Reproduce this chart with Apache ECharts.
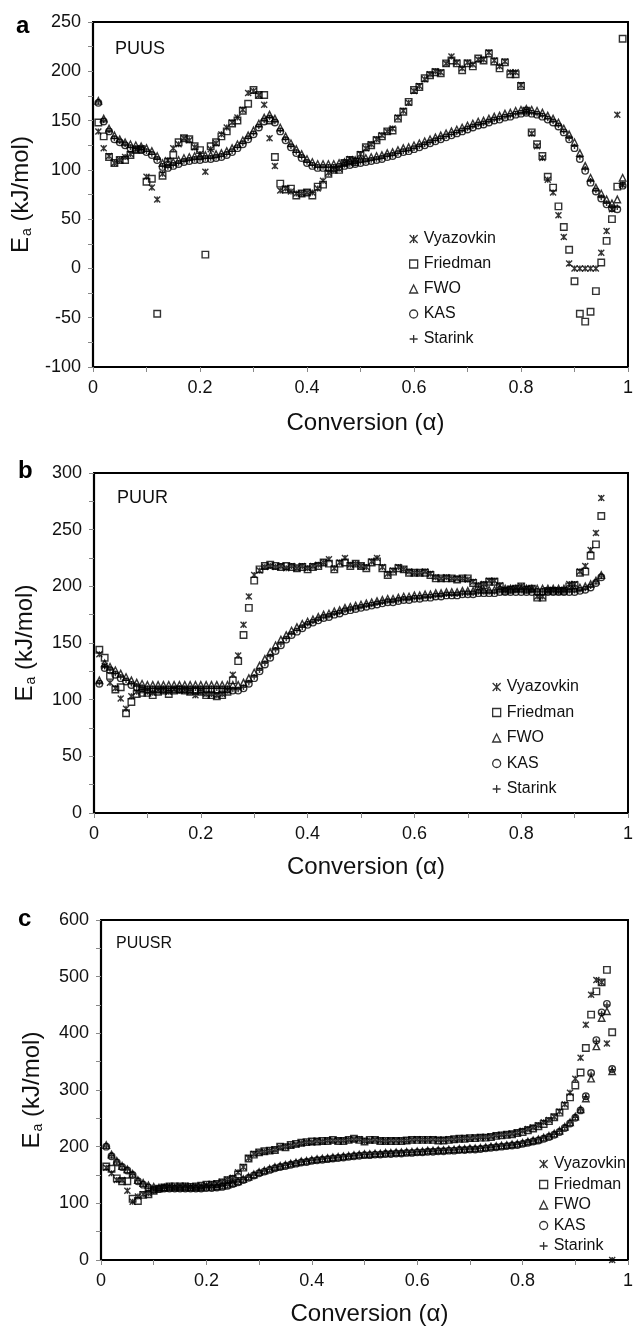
<!DOCTYPE html>
<html><head><meta charset="utf-8">
<script src="https://cdn.jsdelivr.net/npm/echarts@6/dist/echarts.min.js"></script>
<style>html,body{margin:0;padding:0;background:#fff}#c{width:636px;height:1332px}</style>
</head><body><div id="c"></div>
<script>
// ---------- data ----------
const seriesNames = ['Vyazovkin','Friedman','FWO','KAS','Starink'];
const panelLetters = ['a','b','c'];
const panelTitles = ['PUUS','PUUR','PUUSR'];
const xTitle = 'Conversion (\u03b1)';

const alphaA = [0.01,0.02,0.03,0.04,0.05,0.06,0.07,0.08,0.09,0.10,0.11,0.12,0.13,0.14,0.15,0.16,0.17,0.18,0.19,0.20,0.21,0.22,0.23,0.24,0.25,0.26,0.27,0.28,0.29,0.30,0.31,0.32,0.33,0.34,0.35,0.36,0.37,0.38,0.39,0.40,0.41,0.42,0.43,0.44,0.45,0.46,0.47,0.48,0.49,0.50,0.51,0.52,0.53,0.54,0.55,0.56,0.57,0.58,0.59,0.60,0.61,0.62,0.63,0.64,0.65,0.66,0.67,0.68,0.69,0.70,0.71,0.72,0.73,0.74,0.75,0.76,0.77,0.78,0.79,0.80,0.81,0.82,0.83,0.84,0.85,0.86,0.87,0.88,0.89,0.90,0.91,0.92,0.93,0.94,0.95,0.96,0.97,0.98,0.99];
const vyaA = [139,122,114,107,110,113,116,121,122,93, 82,70,96,110,122,126,132,130,123,116, 98,121,127,136,143,148,153,161,178,180, 176,166,132,104,79,81,78,76,76,77, 77,81,89,97,100,101,107,111,110,116, 122,126,131,135,139,142,153,160,168,180, 185,192,197,200,199,208,215,209,203,209, 207,212,212,219,211,205,210,199,199,186, 160,137,124,112,90,77,54,32,5,0, 0,0,0,0,16,38,60,156,85];
const friA = [148,134,113,107,110,110,115,120,121,88, 91,-46,94,108,115,128,132,131,124,120, 14,124,128,134,139,147,150,160,167,181, 176,176,150,113,86,80,81,74,76,77, 74,83,85,96,100,100,107,110,108,115, 123,125,130,134,139,140,152,159,169,181, 184,193,196,199,198,208,211,208,201,208, 205,213,211,218,210,203,209,197,197,185, 160,138,126,114,93,82,63,42,19,-13, -46,-54,-44,-23,6,28,50,83,233];
const fwoA = [170,152,142,135,131,128,126,125,124,122, 119,114,107,106,108,110,112,113,114,114, 115,115,116,117,119,122,126,130,135,140, 147,153,156,152,143,134,127,121,116,111, 108,106,106,106,106,107,108,109,110,111, 112,113,114,115,117,118,120,122,123,125, 127,129,131,133,135,137,139,141,143,145, 147,149,150,152,154,155,157,158,160,161, 162,161,160,158,155,152,148,142,136,128, 117,104,92,82,76,70,66,70,92];
const kasA = [168,149,139,131,128,125,122,121,120,118, 115,110,103,102,104,106,108,109,110,110, 111,111,112,113,115,118,122,126,131,136, 143,149,152,148,139,130,123,117,112,107, 104,102,102,102,102,103,104,105,106,107, 108,109,110,111,113,114,116,118,119,121, 123,125,127,129,131,133,135,137,139,141, 143,145,146,148,150,151,153,154,156,157, 158,157,156,154,151,148,144,138,131,122, 111,99,87,78,71,65,61,60,84];
const staA = [169,150,140,132,129,126,123,122,121,119, 116,111,104,103,105,107,109,110,111,111, 112,112,113,114,116,119,123,127,132,137, 144,150,153,149,140,131,124,118,113,108, 105,103,103,103,103,104,105,106,107,108, 109,110,111,112,114,115,117,119,120,122, 124,126,128,130,132,134,136,138,140,142, 144,146,147,149,151,152,154,155,157,158, 159,158,157,155,152,149,145,139,132,124, 113,101,89,79,72,66,62,62,85];

const alphaB = [0.01,0.02,0.03,0.04,0.05,0.06,0.07,0.08,0.09,0.10,0.11,0.12,0.13,0.14,0.15,0.16,0.17,0.18,0.19,0.20,0.21,0.22,0.23,0.24,0.25,0.26,0.27,0.28,0.29,0.30,0.31,0.32,0.33,0.34,0.35,0.36,0.37,0.38,0.39,0.40,0.41,0.42,0.43,0.44,0.45,0.46,0.47,0.48,0.49,0.50,0.51,0.52,0.53,0.54,0.55,0.56,0.57,0.58,0.59,0.60,0.61,0.62,0.63,0.64,0.65,0.66,0.67,0.68,0.69,0.70,0.71,0.72,0.73,0.74,0.75,0.76,0.77,0.78,0.79,0.80,0.81,0.82,0.83,0.84,0.85,0.86,0.87,0.88,0.89,0.90,0.91,0.92,0.93,0.94,0.95];
const vyaB = [140,130,115,110,101,92,103,107,108,107, 106,108,108,107,109,108,108,107,104,107, 105,105,104,105,108,122,139,166,191,210, 214,217,218,217,218,216,218,216,218,216, 218,219,221,224,216,221,225,219,220,218, 217,222,225,217,211,214,217,215,213,212, 212,213,211,208,207,208,207,207,207,206, 204,201,202,205,205,201,197,198,198,200, 198,198,191,191,196,197,196,197,202,202, 213,218,232,247,278];
const friB = [144,137,121,109,111,88,98,105,106,106, 104,107,108,105,108,109,108,107,108,107, 104,104,103,104,107,117,134,157,181,205, 215,218,219,218,217,218,217,216,217,215, 217,218,221,220,215,220,221,218,220,218, 216,221,222,216,210,213,216,215,212,212, 212,212,210,207,207,207,207,206,207,207, 203,200,201,204,204,200,196,197,198,200, 197,198,190,190,196,196,196,196,200,201, 212,213,227,237,262];
const fwoB = [117,132,129,126,123,120,117,115,114,113, 113,113,113,113,113,113,113,113,113,113, 113,113,113,113,113,113,113,115,119,124, 130,136,142,148,153,157,161,164,167,169, 171,173,175,176,178,179,181,182,183,184, 185,186,187,188,189,189,190,191,191,192, 192,193,193,194,194,195,195,195,196,196, 196,197,197,197,197,198,198,198,198,198, 198,198,198,198,198,198,198,198,198,198, 199,200,202,205,210];
const kasB = [114,128,126,122,119,116,113,111,110,109, 109,109,109,109,109,109,109,109,109,109, 109,109,109,109,109,108,108,110,114,119, 125,131,137,143,148,153,157,160,163,166, 168,170,172,173,175,176,178,179,180,181, 182,183,184,185,186,186,187,188,188,189, 189,190,190,191,191,192,192,192,193,193, 193,194,194,194,194,195,195,195,195,195, 195,195,195,195,195,195,195,195,195,195, 196,197,199,203,208];
const staB = [115,129,127,123,120,117,114,112,111,110, 110,110,110,110,110,110,110,110,110,110, 110,110,110,110,110,109,109,111,115,120, 126,132,138,144,149,154,158,161,164,167, 169,171,173,174,176,177,179,180,181,182, 183,184,185,186,187,187,188,189,189,190, 190,191,191,192,192,193,193,193,194,194, 194,195,195,195,195,196,196,196,196,196, 196,196,196,196,196,196,196,196,196,196, 197,198,200,204,209];

const alphaC = [0.01,0.02,0.03,0.04,0.05,0.06,0.07,0.08,0.09,0.10,0.11,0.12,0.13,0.14,0.15,0.16,0.17,0.18,0.19,0.20,0.21,0.22,0.23,0.24,0.25,0.26,0.27,0.28,0.29,0.30,0.31,0.32,0.33,0.34,0.35,0.36,0.37,0.38,0.39,0.40,0.41,0.42,0.43,0.44,0.45,0.46,0.47,0.48,0.49,0.50,0.51,0.52,0.53,0.54,0.55,0.56,0.57,0.58,0.59,0.60,0.61,0.62,0.63,0.64,0.65,0.66,0.67,0.68,0.69,0.70,0.71,0.72,0.73,0.74,0.75,0.76,0.77,0.78,0.79,0.80,0.81,0.82,0.83,0.84,0.85,0.86,0.87,0.88,0.89,0.90,0.91,0.92,0.93,0.94,0.95,0.96,0.97];
const vyaC = [163,153,141,141,122,103,112,116,118,122, 126,129,130,129,130,131,129,130,130,132, 134,135,138,142,145,155,164,180,187,190, 191,193,195,199,200,202,204,206,208,208, 210,209,211,211,211,211,212,213,213,210, 211,212,211,210,211,211,211,211,212,213, 212,212,213,212,212,213,213,214,215,215, 216,217,217,218,220,221,222,223,225,228, 231,234,238,243,247,253,262,275,295,320, 357,415,468,494,490,382,0];
const friC = [165,161,144,139,139,108,104,115,116,122, 126,128,130,130,130,130,129,130,131,133, 133,134,137,141,143,151,163,179,186,190, 192,193,194,200,199,203,205,207,208,209, 209,210,210,212,210,210,212,214,212,209, 212,212,210,210,210,210,210,211,212,212, 212,212,212,211,211,212,213,214,214,215, 215,216,216,217,219,220,221,222,224,226, 229,232,236,240,245,252,260,272,287,308, 331,374,433,474,490,512,402];
const fwoC = [203,186,175,166,160,152,141,136,132,129, 128,128,128,128,128,128,128,128,128,129, 129,130,131,133,136,139,143,147,151,155, 158,161,164,166,168,170,172,174,175,177, 178,179,180,181,182,183,184,185,186,187, 187,188,188,189,189,190,190,191,191,192, 192,193,193,194,194,195,195,196,196,197, 197,198,199,200,201,202,203,204,205,207, 209,211,213,216,219,223,228,235,243,253, 266,285,320,377,427,439,333];
const kasC = [200,183,172,164,158,150,139,133,128,124, 125,126,126,126,126,126,126,126,126,127, 127,128,129,131,134,137,141,145,149,153, 156,159,162,164,166,168,170,172,173,175, 176,177,178,179,180,181,182,183,184,185, 185,186,186,187,187,188,188,189,189,190, 190,191,191,192,192,193,193,194,194,195, 195,196,197,198,199,200,201,202,203,205, 207,209,211,214,217,221,226,233,241,251, 264,289,330,388,437,452,337];
const staC = [201,184,173,165,159,151,140,134,129,126, 126,127,127,127,127,127,127,127,127,128, 128,129,130,132,135,138,142,146,150,154, 157,160,163,165,167,169,171,173,174,176, 177,178,179,180,181,182,183,184,185,186, 186,187,187,188,188,189,189,190,190,191, 191,192,192,193,193,194,194,195,195,196, 196,197,198,199,200,201,202,203,204,206, 208,210,212,215,218,222,227,234,242,252, 265,288,328,386,435,450,336];

const yMinA = -100, yMaxA = 250, yStepA = 50;
const yMinB = 0, yMaxB = 300, yStepB = 50;
const yMinC = 0, yMaxC = 600, yStepC = 100;

// ---------- styling / layout ----------
const FONT = '"Liberation Sans", Arial, Helvetica, sans-serif';
const panels = [
  {alpha: alphaA, vals: [vyaA, friA, fwoA, kasA, staA], y: [yMinA, yMaxA, yStepA],
   grid: {left: 93, top: 22, width: 539, height: 345}, nameGapX: 44,
   legend: {left: 404, top: 226, itemGap: 9}, letter: {left: 11, top: 9}, title: {left: 110, top: 35, size: 18}},
  {alpha: alphaB, vals: [vyaB, friB, fwoB, kasB, staB], y: [yMinB, yMaxB, yStepB],
   grid: {left: 94, top: 473, width: 538, height: 340}, nameGapX: 42,
   legend: {left: 487, top: 674, itemGap: 9.5}, letter: {left: 13, top: 454}, title: {left: 112, top: 484, size: 18}},
  {alpha: alphaC, vals: [vyaC, friC, fwoC, kasC, staC], y: [yMinC, yMaxC, yStepC],
   grid: {left: 101, top: 920, width: 532, height: 340}, nameGapX: 42,
   legend: {left: 534, top: 1151, itemGap: 4.5}, letter: {left: 13, top: 902}, title: {left: 111, top: 931, size: 16}}
];

const stroke = {color: 'rgba(0,0,0,0)', borderColor: '#000', borderWidth: 1.4};
const symbols = [
  {symbol: 'path://M0,0 L10,10 M10,0 L0,10 M5,0 L5,10', size: 6},
  {symbol: 'rect', size: 6.5},
  {symbol: 'triangle', size: 6.5},
  {symbol: 'circle', size: 6.5},
  {symbol: 'path://M5,0 L5,10 M0,5 L10,5', size: 5.5}
];

const grids = [], xAxes = [], yAxes = [], series = [], legends = [], titles = [];
panels.forEach((p, pi) => {
  grids.push(Object.assign({show: true, borderColor: '#000', borderWidth: 2, backgroundColor: 'transparent'}, p.grid));
  xAxes.push({
    type: 'value', gridIndex: pi, min: 0, max: 1, interval: 0.2,
    name: xTitle, nameLocation: 'middle', nameGap: p.nameGapX,
    nameTextStyle: {fontFamily: FONT, fontSize: 24, color: '#111', padding: [0, 0, 0, 10]},
    axisLine: {onZero: false, lineStyle: {color: '#000', width: 2.2}},
    axisTick: {show: true, length: 5, lineStyle: {color: '#888', width: 1}},
    minorTick: {show: true, splitNumber: 2, length: 5, lineStyle: {color: '#888', width: 1}},
    splitLine: {show: false}, minorSplitLine: {show: false},
    axisLabel: {fontFamily: FONT, fontSize: 18, color: '#111', margin: 12,
      formatter: v => (Math.round(v * 10) / 10).toString()}
  });
  yAxes.push({
    type: 'value', gridIndex: pi, min: p.y[0], max: p.y[1], interval: p.y[2],
    name: '{e|E}{s|a}{e| (kJ/mol)}', nameLocation: 'middle', nameGap: 56, nameRotate: 90,
    nameTextStyle: {fontFamily: FONT, color: '#111',
      rich: {e: {fontFamily: FONT, fontSize: 24, color: '#111'},
             s: {fontFamily: FONT, fontSize: 14, color: '#111', padding: [11, 0, 0, 1]}}},
    axisLine: {onZero: false, lineStyle: {color: '#000', width: 2.2}},
    axisTick: {show: true, length: 5, lineStyle: {color: '#888', width: 1}},
    minorTick: {show: true, splitNumber: 2, length: 5, lineStyle: {color: '#888', width: 1}},
    splitLine: {show: false}, minorSplitLine: {show: false},
    axisLabel: {fontFamily: FONT, fontSize: 18, color: '#111', margin: 12}
  });
  seriesNames.forEach((nm, si) => {
    series.push({
      type: 'scatter', name: nm, xAxisIndex: pi, yAxisIndex: pi,
      symbol: symbols[si].symbol, symbolSize: symbols[si].size,
      itemStyle: stroke, emphasis: {disabled: true}, silent: true,
      data: p.alpha.map((a, i) => [a, p.vals[si][i]])
    });
  });
  legends.push({
    orient: 'vertical', left: p.legend.left, top: p.legend.top, itemGap: p.legend.itemGap,
    itemWidth: 8, itemHeight: 8, itemStyle: {borderWidth: 1.3},
    textStyle: {fontFamily: FONT, fontSize: 16, color: '#111', padding: [0, 0, 0, 1]},
    selectedMode: false, data: seriesNames
  });
  titles.push({text: panelLetters[pi], left: p.letter.left, top: p.letter.top,
    textStyle: {fontFamily: FONT, fontSize: 24, fontWeight: 'bold', color: '#000'}});
  titles.push({text: panelTitles[pi], left: p.title.left, top: p.title.top,
    textStyle: {fontFamily: FONT, fontSize: p.title.size, fontWeight: 'normal', color: '#111'}});
});

const chart = echarts.init(document.getElementById('c'), null, {renderer: 'canvas'});
chart.setOption({
  animation: false, backgroundColor: '#fff',
  title: titles, grid: grids, xAxis: xAxes, yAxis: yAxes, legend: legends, series: series
});
</script></body></html>
